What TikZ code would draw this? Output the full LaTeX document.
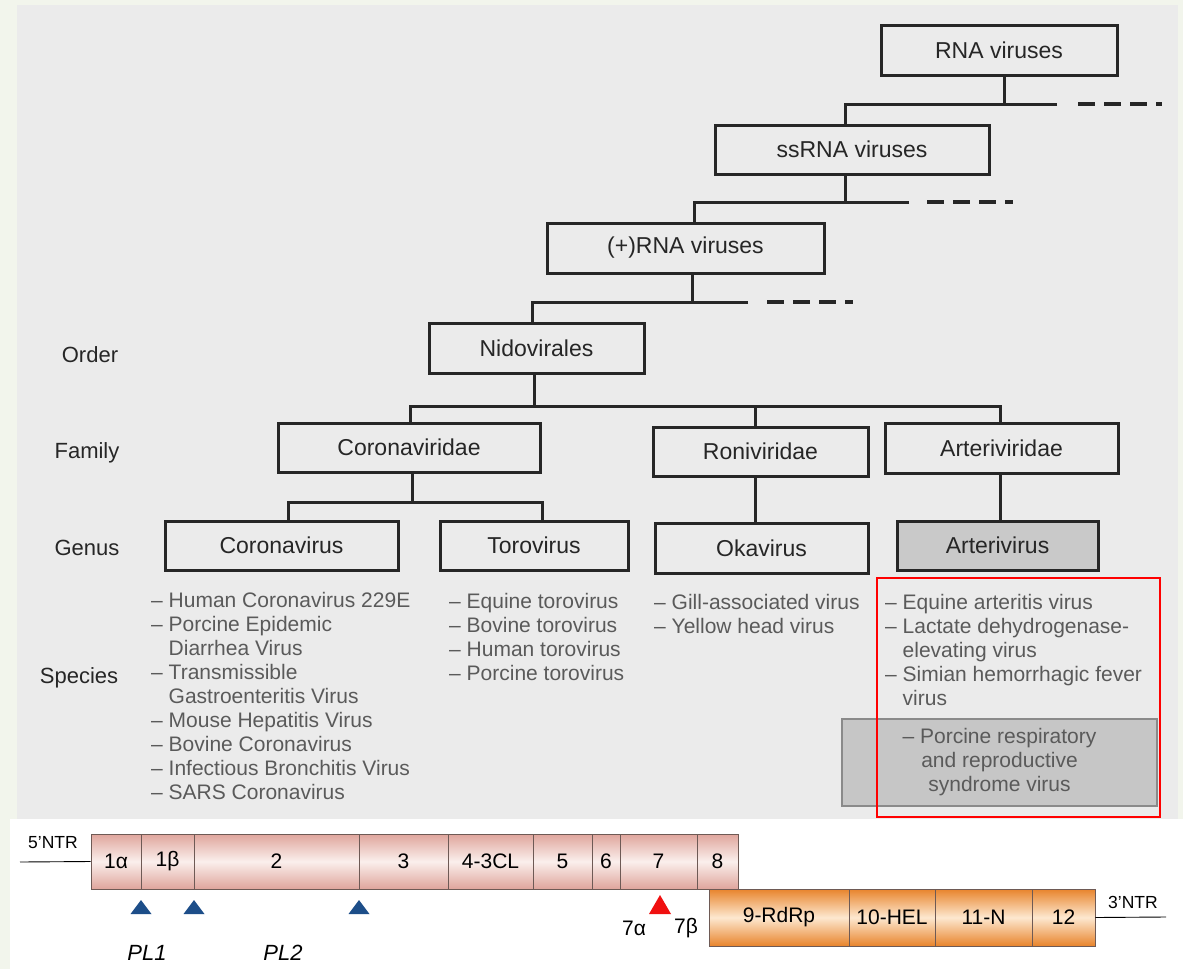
\documentclass[tikz,border=0pt]{standalone}
\usepackage{fontspec}
\setmainfont{Liberation Sans}
\definecolor{pageg}{HTML}{F2F5EC}
\definecolor{panel}{HTML}{EBEBEB}
\definecolor{ink}{HTML}{262626}
\definecolor{spec}{HTML}{5A5A5A}
\definecolor{boxgray}{HTML}{C9C9C9}
\definecolor{boxgray2}{HTML}{C6C6C6}
\definecolor{boxedge}{HTML}{8A8A8A}
\definecolor{pinkd}{HTML}{DFA59C}
\definecolor{pinkl}{HTML}{FBEFEC}
\definecolor{orad}{HTML}{E8842C}
\definecolor{oral}{HTML}{FDE8D0}
\definecolor{segline}{HTML}{6E5A55}
\definecolor{tri}{HTML}{1D4E89}
\definecolor{trired}{HTML}{F01010}
\begin{document}
\begin{tikzpicture}[x=1pt,y=-1pt,
 taxbox/.style={draw=ink, line width=3pt, fill=panel, text=ink, inner sep=0pt, font=\fontsize{23}{27}\selectfont},
 tree/.style={draw=ink, line width=3pt},
 cont/.style={draw=ink, line width=3.4pt, dash pattern=on 17pt off 9pt},
 rank/.style={text=ink, inner sep=0pt, font=\fontsize{22}{26}\selectfont},
 species/.style={text=spec, align=left, inner sep=0pt, anchor=base west, font=\fontsize{21}{24}\selectfont},
 pinkseg/.style={draw=segline, line width=0.9pt, top color=pinkd, bottom color=pinkd, middle color=pinkl, minimum height=55pt, inner sep=0pt, font=\fontsize{21}{24}\selectfont},
 oraseg/.style={draw=segline, line width=0.9pt, top color=orad, bottom color=orad, middle color=oral, minimum height=57pt, inner sep=0pt, font=\fontsize{21}{24}\selectfont},
 glabel/.style={inner sep=0pt, font=\fontsize{21}{24}\selectfont},
 ntr/.style={inner sep=0pt, font=\fontsize{17.5}{20}\selectfont},
 pl/.style={inner sep=0pt, font=\fontsize{22}{26}\selectfont\itshape},
 cleave/.style={fill=tri},
]
\useasboundingbox (0,0) rectangle (1183,969);
% backgrounds
\fill[pageg] (0,0) rectangle (1183,969);
\fill[panel] (17,5) rectangle (1178,819);
\fill[white] (10,819) rectangle (1183,969);

% taxonomy boxes
\node[taxbox, minimum width=236pt, minimum height=50pt] (rna) at (999,50) {RNA viruses};
\node[taxbox, minimum width=274pt, minimum height=49pt] (ss) at (852,149.5) {ssRNA viruses};
\node[taxbox, minimum width=277pt, minimum height=50pt] (prna) at (685.5,248) {(+)RNA viruses};
\node[taxbox, minimum width=215pt, minimum height=50pt] (nido) at (536.5,348) {Nidovirales};
\node[taxbox, minimum width=262pt, minimum height=49pt] (corf) at (409,447.5) {Coronaviridae};
\node[taxbox, minimum width=215pt, minimum height=49pt] (ronf) at (760.5,451.5) {Roniviridae};
\node[taxbox, minimum width=233pt, minimum height=50pt] (artf) at (1001.5,448) {Arteriviridae};
\node[taxbox, minimum width=233pt, minimum height=49pt] (corg) at (281.5,545.5) {Coronavirus};
\node[taxbox, minimum width=188pt, minimum height=49pt] (torg) at (534,545.5) {Torovirus};
\node[taxbox, minimum width=213pt, minimum height=50pt] (okag) at (761.5,548) {Okavirus};
\node[taxbox, fill=boxgray, minimum width=201pt, minimum height=49pt] (artg) at (997.5,545.5) {Arterivirus};

% junction coordinates
\coordinate (j1) at (1004,104); \coordinate (j1l) at (845,104); \coordinate (j1r) at (1057,104);
\coordinate (d1s) at (1078,104); \coordinate (d1e) at (1162,104);
\coordinate (j2) at (845,202); \coordinate (j2l) at (694,202); \coordinate (j2r) at (909,202);
\coordinate (d2s) at (927,202); \coordinate (d2e) at (1013,202);
\coordinate (j3) at (692,302); \coordinate (j3l) at (532,302); \coordinate (j3r) at (748,302);
\coordinate (d3s) at (767,302); \coordinate (d3e) at (853,302);
\coordinate (j4) at (534,406); \coordinate (j4l) at (410,406); \coordinate (j4m) at (755,406); \coordinate (j4r) at (1000,406);
\coordinate (j5) at (412,502); \coordinate (j5l) at (288,502); \coordinate (j5r) at (542,502);

% connectors
\draw[tree] (rna.south -| j1) -- (j1);
\draw[tree] (j1r) -- (j1l) -- (ss.north -| j1l);
\draw[cont] (d1s) -- (d1e);
\draw[tree] (ss.south -| j2) -- (j2);
\draw[tree] (j2r) -- (j2l) -- (prna.north -| j2l);
\draw[cont] (d2s) -- (d2e);
\draw[tree] (prna.south -| j3) -- (j3);
\draw[tree] (j3r) -- (j3l) -- (nido.north -| j3l);
\draw[cont] (d3s) -- (d3e);
\draw[tree] (nido.south -| j4) -- (j4);
\draw[tree] (corf.north -| j4l) -- (j4l) -- (j4r) -- (artf.north -| j4r);
\draw[tree] (j4m) -- (ronf.north -| j4m);
\draw[tree] (corf.south -| j5) -- (j5);
\draw[tree] (corg.north -| j5l) -- (j5l) -- (j5r) -- (torg.north -| j5r);
\draw[tree] (ronf.south -| j4m) -- (okag.north -| j4m);
\draw[tree] (artf.south -| j4r) -- (artg.north -| j4r);

% rank labels
\node[rank] (lorder) at (90,355) {Order};
\node[rank] (lfamily) at (87,453) {Family};
\node[rank] (lgenus) at (87,548) {Genus};
\node[rank] (lspecies) at (79,678) {Species};

% species lists (anchored at the baseline of the last line)
\node[species] (scor) at (151,799) {– Human Coronavirus 229E\\– Porcine Epidemic\\\phantom{– }Diarrhea Virus\\– Transmissible\\\phantom{– }Gastroenteritis Virus\\– Mouse Hepatitis Virus\\– Bovine Coronavirus\\– Infectious Bronchitis Virus\\– SARS Coronavirus};
\node[species] (stor) at (449,680) {– Equine torovirus\\– Bovine torovirus\\– Human torovirus\\– Porcine torovirus};
\node[species] (soka) at (654,633) {– Gill-associated virus\\– Yellow head virus};
\node[species] (sart) at (885,705) {– Equine arteritis virus\\– Lactate dehydrogenase-\\\phantom{– }elevating virus\\– Simian hemorrhagic fever\\\phantom{– }virus};
\node[draw=boxedge, line width=2pt, fill=boxgray2, text=spec, align=center, minimum width=315pt, minimum height=87pt, inner sep=0pt, font=\fontsize{21}{24}\selectfont] (prrsv) at (999.5,762.5) {– Porcine respiratory\\and reproductive\\syndrome virus};
\node[draw=red, line width=2pt, minimum width=283pt, minimum height=239pt, inner sep=0pt] (hl) at (1018.5,697.5) {};

% genome: pink polyprotein segments
\node[pinkseg, minimum width=50pt] (s1a) at (116,861.5) {1α};
\node[pinkseg, minimum width=53pt] (s1b) at (167.5,861.5) {1β};
\node[pinkseg, minimum width=165pt] (s2) at (276.5,861.5) {2};
\node[pinkseg, minimum width=89pt] (s3) at (403.5,861.5) {3};
\node[pinkseg, minimum width=85pt] (s4) at (490.5,861.5) {4-3CL};
\node[pinkseg, minimum width=59pt] (s5) at (562.5,861.5) {5};
\node[pinkseg, minimum width=28pt] (s6) at (606,861.5) {6};
\node[pinkseg, minimum width=77pt] (s7) at (658.5,861.5) {7};
\node[pinkseg, minimum width=41pt] (s8) at (717.5,861.5) {8};
% orange segments
\node[oraseg, minimum width=140pt] (s9) at (779,917.5) {9-RdRp};
\node[oraseg, minimum width=86pt] (s10) at (892,917.5) {10-HEL};
\node[oraseg, minimum width=97pt] (s11) at (983.5,917.5) {11-N};
\node[oraseg, minimum width=63pt] (s12) at (1063.5,917.5) {12};

% NTR lines
\coordinate (n5) at (20,862);
\coordinate (n3) at (1166,917);
\draw[line width=0.9pt] (n5) -- (s1a.west);
\draw[line width=0.9pt] (s12.east) -- (n3);
\node[ntr] (t5) at (53,843) {5’NTR};
\node[ntr] (t3) at (1133,902) {3’NTR};

% cleavage sites
\coordinate (c1) at (141,900);
\coordinate (c2) at (194,900);
\coordinate (c3) at (359,900);
\coordinate (c7) at (660,895);
\foreach \c in {c1,c2,c3}{
  \fill[cleave] (\c) ++(-10.5,14) -- ++(21,0) -- (\c) -- cycle;
}
\fill[trired] (c7) ++(-11,19) -- ++(22,0) -- (c7) -- cycle;
\node[glabel] (l7a) at (634,928) {7α};
\node[glabel] (l7b) at (686,928) {7β};
\node[pl] (pl1) at (147,953) {PL1};
\node[pl] (pl2) at (283,953) {PL2};
\end{tikzpicture}
\end{document}
